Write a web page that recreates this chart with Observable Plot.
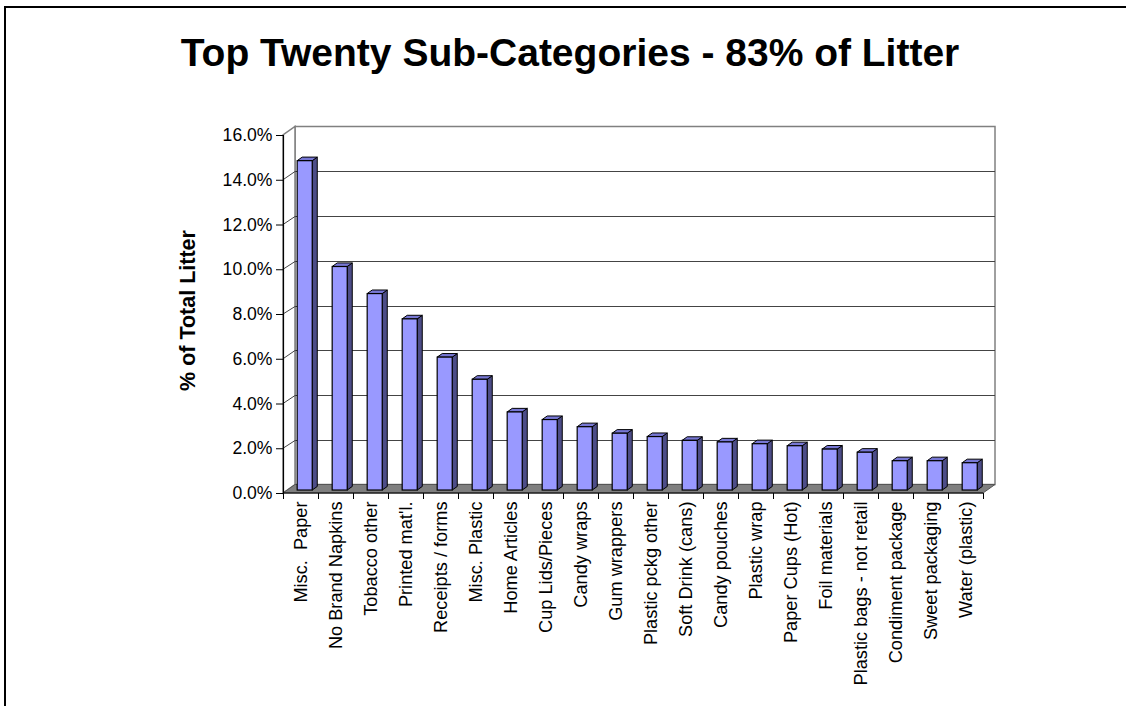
<!DOCTYPE html>
<html><head><meta charset="utf-8">
<script src="https://cdn.jsdelivr.net/npm/d3@7"></script>
<script src="https://cdn.jsdelivr.net/npm/@observablehq/plot@0.6"></script>
<style>
html,body{margin:0;padding:0;background:#fff;overflow:hidden}
#wrap{position:relative;width:1126px;height:706px;overflow:hidden;font-family:"Liberation Sans",Arial,sans-serif}
#btop{position:absolute;left:4px;top:6px;width:1200px;height:2px;background:#000}
#bleft{position:absolute;left:4px;top:6px;width:2px;height:800px;background:#000}
#title{position:absolute;left:4px;width:1132px;top:33px;text-align:center;font-weight:bold;font-size:39px;line-height:39px;color:#000;white-space:nowrap}
#chart{position:absolute;left:0;top:0}
</style></head>
<body>
<div id="wrap">
  <div id="btop"></div>
  <div id="bleft"></div>
  <div id="title">Top Twenty Sub-Categories - 83% of Litter</div>
  <div id="chart"></div>
</div>
<script>
const categories = [
  "Misc.  Paper", "No Brand Napkins", "Tobacco other", "Printed mat'l.", "Receipts / forms",
  "Misc. Plastic", "Home Articles", "Cup Lids/Pieces", "Candy wraps", "Gum wrappers",
  "Plastic pckg other", "Soft Drink (cans)", "Candy pouches", "Plastic wrap", "Paper Cups (Hot)",
  "Foil materials", "Plastic bags - not retail", "Condiment package", "Sweet packaging", "Water (plastic)"
];
const shares = [14.72, 9.99, 8.78, 7.65, 5.94, 4.95, 3.49, 3.15, 2.83, 2.54,
                2.39, 2.22, 2.15, 2.07, 1.98, 1.83, 1.69, 1.31, 1.31, 1.22];
const yTicks = [0, 2, 4, 6, 8, 10, 12, 14, 16];
const yTitle = "% of Total Litter";

const DX = 12, DY = -8.5;           // 3D depth offset (px)
const F1 = 0.35, F2 = 0.77;         // bar depth placement
const FACE = "#9999ff", SIDE = "#4d4d88", TOP = "#7777d4";

function render3D(index, scales) {
  const x = scales.x, y = scales.y;
  const step = x(categories[1]) - x(categories[0]);
  const X0 = x(categories[0]);
  const X1 = x(categories[categories.length - 1]) + step;
  const Y0 = y(0), Y1 = y(yTicks[yTicks.length - 1]);
  const cr = v => Math.round(v) + 0.5;
  const g = d3.create("svg:g");
  // back wall
  g.append("rect").attr("x", X0 + DX).attr("y", Y1 + DY).attr("width", X1 - X0).attr("height", Y0 - Y1)
    .attr("fill", "#fff").attr("stroke", "#808080").attr("stroke-width", 1.5);
  // side wall
  g.append("path").attr("d", `M${X0},${Y0}L${X0},${Y1}L${X0 + DX},${Y1 + DY}L${X0 + DX},${Y0 + DY}Z`)
    .attr("fill", "#fff").attr("stroke", "#808080").attr("stroke-width", 1.5);
  // floor
  g.append("path").attr("d", `M${X0},${Y0}L${X1},${Y0}L${X1 + DX},${Y0 + DY}L${X0 + DX},${Y0 + DY}Z`)
    .attr("fill", "#7f7f7f").attr("stroke", "#555").attr("stroke-width", 1);
  // gridlines
  yTicks.slice(1, -1).forEach(t => {
    const yy = y(t);
    g.append("path").attr("d", `M${X0},${yy}L${X0 + DX},${cr(yy + DY)}L${X1 + DX},${cr(yy + DY)}`)
      .attr("fill", "none").attr("stroke", "#444").attr("stroke-width", 1);
  });
  // bars
  const fw = step * 0.43;
  const ddx = (F2 - F1) * DX, ddy = (F2 - F1) * DY;
  shares.forEach((v, i) => {
    const cx = x(categories[i]) + step / 2 + F1 * DX;
    const xl = cx - fw / 2, xr = cx + fw / 2;
    const yb = Y0 + F1 * DY, yt = y(v) + F1 * DY;
    g.append("path").attr("d", `M${xr},${yb}L${xr},${yt}L${xr + ddx},${yt + ddy}L${xr + ddx},${yb + ddy}Z`)
      .attr("fill", SIDE).attr("stroke", "#000").attr("stroke-width", 1).attr("stroke-linejoin", "round");
    g.append("path").attr("d", `M${xl},${yt}L${xr},${yt}L${xr + ddx},${yt + ddy}L${xl + ddx},${yt + ddy}Z`)
      .attr("fill", TOP).attr("stroke", "#000").attr("stroke-width", 1).attr("stroke-linejoin", "round");
    g.append("rect").attr("x", xl).attr("y", yt).attr("width", fw).attr("height", yb - yt)
      .attr("fill", FACE).attr("stroke", "#000").attr("stroke-width", 1.2);
  });
  // front axis lines and category ticks
  g.append("path").attr("d", `M${cr(X0)},${Y1}L${cr(X0)},${Y0}L${X1},${Y0}`)
    .attr("fill", "none").attr("stroke", "#000").attr("stroke-width", 1.2);
  for (let k = 0; k <= categories.length; k++) {
    const xx = cr(X0 + k * step);
    g.append("line").attr("x1", xx).attr("x2", xx).attr("y1", Y0).attr("y2", Y0 + 6)
      .attr("stroke", "#000").attr("stroke-width", 1);
  }
  return g.node();
}

const chart = Plot.plot({
  width: 1126, height: 706,
  marginLeft: 283, marginRight: 143, marginTop: 135, marginBottom: 213,
  style: {fontFamily: "'Liberation Sans', Arial, sans-serif", background: "transparent", color: "#000", overflow: "visible"},
  x: {type: "band", domain: categories, padding: 0},
  y: {domain: [0, 16]},
  marks: [
    render3D,
    Plot.axisY({ticks: yTicks, tickFormat: d => d.toFixed(1) + "%", tickSize: 7, tickPadding: 4, fontSize: 17.6, label: null}),
    Plot.axisX({tickRotate: -90, tickSize: 0, tickPadding: 8, fontSize: 18.2, label: null}),
    Plot.text([yTitle], {text: d => d, frameAnchor: "left", textAnchor: "middle", rotate: -90, dx: -95, dy: -4, fontSize: 21.5, fontWeight: "bold"})
  ]
});
document.getElementById("chart").appendChild(chart);
</script>
</body></html>
